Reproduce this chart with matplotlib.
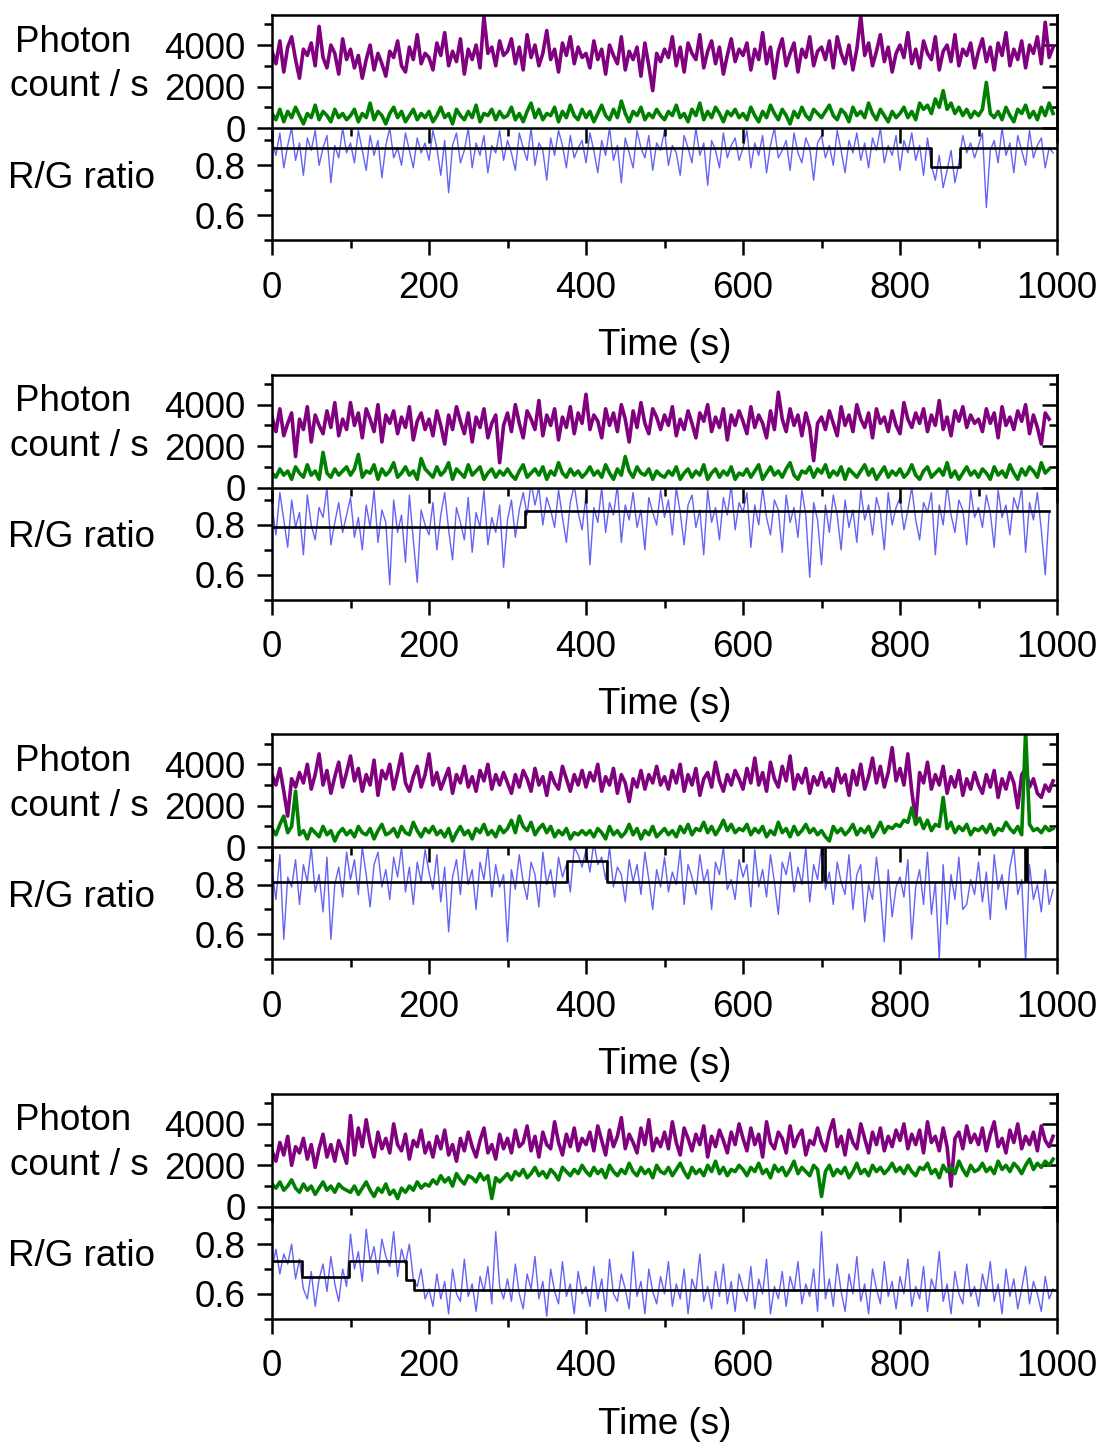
import numpy as np
import matplotlib.pyplot as plt
from matplotlib.ticker import MultipleLocator

plt.rcParams['font.family'] = ['Liberation Sans', 'DejaVu Sans']
plt.rcParams['font.size'] = 26.5

dt = 5  # seconds between points

# photon counts in units of 100 counts/s, R/G ratio in units of 0.01
# ---- trace 1
red1 = [37,31,42,27,39,44,33,24,38,35,41,30,49,34,29,40,36,26,43,33,
        38,29,35,24,33,40,28,36,31,25,37,34,42,30,27,39,33,45,31,36,
        34,28,41,35,46,30,37,32,43,26,38,33,40,29,54,36,39,30,42,35,
        37,43,31,39,28,45,34,40,30,36,47,33,38,27,41,35,44,31,39,34,
        36,29,42,33,38,26,40,35,31,44,28,37,33,39,25,41,30,18,36,32,
        38,34,44,30,39,27,41,36,33,45,29,37,42,31,39,26,35,43,32,38,
        35,41,28,38,33,46,31,39,24,37,43,30,36,41,27,38,34,44,30,37,
        39,33,42,29,44,36,31,40,28,38,54,35,41,30,37,45,32,39,27,36,
        40,34,46,31,38,29,42,36,33,44,28,37,40,32,45,30,38,35,41,29,
        37,43,32,39,28,41,35,46,30,38,33,42,29,40,36,44,31,51,34,39]
green1 = [7,4,9,3,8,5,10,6,2,7,5,11,4,8,6,3,9,5,7,4,
          6,9,3,7,5,12,4,8,6,2,7,10,5,8,3,6,9,4,7,5,
          8,3,6,10,5,7,2,9,6,4,8,5,11,3,7,6,9,4,8,5,
          6,10,4,7,3,8,12,5,9,4,7,6,10,3,8,5,11,6,4,9,
          5,8,3,7,11,6,4,9,5,13,7,3,8,6,10,4,7,5,9,6,
          4,8,6,11,5,7,3,9,6,12,4,8,5,10,7,3,8,6,9,5,
          7,4,10,6,3,8,5,11,7,4,9,6,2,8,5,10,6,4,9,7,
          5,8,11,6,4,9,7,3,10,6,8,5,12,7,4,9,6,3,8,5,
          7,10,5,8,4,12,9,11,7,14,10,18,9,12,7,10,6,9,5,8,
          6,9,22,7,5,8,4,10,6,3,9,7,11,5,8,4,10,6,12,7]
ratio1 = [90,84,93,79,88,95,82,89,76,91,86,94,80,87,92,73,88,83,95,85,
          89,81,94,86,78,92,84,90,75,88,95,83,87,80,93,86,79,91,85,89,
          82,94,87,76,90,69,88,93,81,86,95,79,89,84,92,77,88,85,94,82,
          90,85,78,93,87,82,95,80,89,86,74,91,84,94,88,79,92,83,87,90,
          81,93,86,77,90,84,95,82,88,73,91,85,79,94,87,83,92,78,89,86,
          94,80,88,85,76,92,87,81,95,84,89,72,90,86,79,93,83,88,91,82,
          87,94,79,89,84,92,77,88,95,83,86,90,78,93,85,81,91,87,74,89,
          92,83,88,80,94,86,77,90,85,93,82,89,79,91,86,95,81,88,84,92,
          78,90,85,93,82,88,76,91,80,74,84,71,78,86,73,81,92,85,89,83,
          88,93,63,86,90,81,95,84,89,77,92,86,80,94,83,88,91,79,87,85]
fit1_t = [0, 840, 877, 1000]
fit1_v = [0.87, 0.795, 0.87]

# ---- trace 2
red2 = [34,27,38,25,31,36,15,33,28,39,22,35,30,26,37,29,41,25,33,28,
        41,30,36,24,38,33,27,40,22,35,31,37,26,34,29,39,23,32,36,28,
        33,25,37,30,21,35,28,39,32,26,36,22,34,29,38,24,31,35,12,30,
        36,27,40,31,24,37,33,28,42,25,35,30,38,23,34,29,39,26,36,31,
        45,28,35,32,24,38,30,36,27,40,33,22,37,29,41,31,26,38,34,28,
        35,30,39,25,33,28,37,31,24,36,32,40,27,34,29,38,23,35,30,37,
        32,26,39,29,35,31,24,37,28,46,33,27,38,30,35,25,36,29,13,31,
        34,28,37,31,25,39,30,35,27,40,33,29,36,24,38,31,34,27,37,30,
        26,41,33,29,36,31,38,27,35,30,42,28,34,25,37,32,39,29,35,31,
        33,27,38,31,36,24,39,30,34,28,37,32,40,26,35,29,21,36,33]
green2 = [7,5,9,6,8,4,10,7,5,11,6,8,4,17,7,5,9,6,8,10,
          6,9,16,5,8,7,11,4,9,6,8,12,5,7,10,6,8,4,14,9,
          7,5,10,6,8,12,4,9,7,5,11,6,8,10,4,7,9,5,8,6,
          9,6,4,8,11,5,7,9,6,10,4,8,6,12,7,5,9,6,8,5,
          7,10,6,8,5,11,7,4,9,6,15,8,5,10,7,6,9,4,8,6,
          5,8,6,10,4,7,9,5,8,6,11,4,7,9,5,8,6,10,4,7,
          6,9,5,8,11,4,7,10,6,8,5,9,12,6,4,8,7,10,5,9,
          7,11,5,8,6,10,4,9,7,5,8,11,6,9,4,7,10,5,8,6,
          9,5,7,11,6,4,8,10,5,7,9,6,12,5,8,4,7,10,6,8,
          5,9,7,4,10,6,8,5,11,7,4,9,6,10,8,5,12,7,9]
ratio2 = [88,76,93,82,71,90,79,85,68,92,80,74,87,83,95,72,81,89,77,84,
          91,75,83,70,88,79,94,73,86,81,56,90,77,84,65,92,74,57,86,80,
          76,89,70,84,93,78,66,87,81,74,91,69,85,79,94,72,83,77,88,63,
          82,90,75,86,93,84,97,88,95,80,91,86,79,94,83,73,89,96,85,78,
          92,64,87,81,95,77,89,84,96,73,88,82,93,79,86,70,91,85,80,94,
          83,90,76,95,85,72,88,92,79,86,68,94,81,87,74,91,84,96,78,89,
          85,93,71,88,80,95,83,76,90,86,69,92,81,87,75,94,84,59,89,82,
          64,88,77,92,84,70,90,79,86,73,94,82,88,76,91,85,70,93,80,87,
          91,78,86,95,82,74,89,85,93,68,88,80,96,84,77,90,86,72,94,83,
          87,79,92,85,71,94,83,88,76,91,86,95,69,89,82,93,78,60,85]
fit2_t = [0, 322, 990]
fit2_v = [0.79, 0.855]

# ---- trace 3
red3 = [35,30,38,27,15,33,29,36,31,40,28,35,45,30,37,26,34,41,29,36,
        44,32,38,27,35,30,42,25,37,33,40,28,36,45,31,27,34,39,29,35,
        45,30,36,28,33,38,26,35,31,39,29,34,27,37,32,40,28,35,30,36,
        31,26,35,29,37,33,27,38,30,34,25,36,31,28,39,33,27,35,30,37,
        29,36,32,40,27,34,30,38,26,35,31,22,33,29,37,28,35,31,39,30,
        34,28,37,31,40,27,35,30,38,25,33,36,29,41,32,27,35,30,37,33,
        28,38,31,43,30,36,27,41,33,29,39,32,44,28,35,31,38,26,34,30,
        36,29,33,27,38,31,35,25,37,30,40,28,34,43,31,39,29,36,48,32,
        38,30,45,27,13,36,31,41,28,35,30,39,26,34,29,37,25,33,28,36,
        30,26,35,29,37,24,33,28,36,31,19,35,38,29,33,26,24,30,27,32]
green3 = [9,6,11,15,7,10,27,6,8,4,9,7,5,10,6,8,3,7,9,6,
          8,5,10,7,6,9,4,8,11,6,7,9,5,10,7,6,12,8,5,9,
          7,10,6,8,5,9,3,7,10,6,8,4,9,7,11,6,8,5,10,7,
          9,13,7,15,10,8,12,6,9,11,7,10,5,8,6,9,4,7,6,8,
          6,8,5,9,7,4,10,6,8,5,7,11,6,9,4,8,6,10,5,7,
          9,6,8,5,10,7,11,6,9,8,12,7,10,6,9,13,8,11,7,9,
          8,11,6,9,7,10,5,8,6,12,7,9,5,10,6,8,11,7,9,6,
          8,5,3,10,7,9,6,8,11,6,9,7,10,5,8,12,7,10,9,11,
          10,13,12,19,11,14,9,13,8,11,10,24,9,12,7,10,8,11,6,9,
          8,10,7,11,6,9,8,12,9,7,10,6,56,11,8,9,7,10,8,9]
ratio3 = [86,74,92,58,83,79,90,72,88,81,95,77,84,69,91,58,80,87,75,93,
          82,90,76,95,84,71,88,93,79,86,74,91,83,95,77,87,72,89,81,94,
          85,78,92,73,87,61,83,90,76,94,80,86,70,89,82,95,75,88,79,84,
          57,86,78,92,81,74,89,84,71,93,80,86,75,91,83,88,77,95,92,87,
          94,85,97,88,91,82,95,79,87,84,73,90,81,88,76,93,82,70,86,79,
          91,77,85,80,94,72,88,83,76,92,81,86,70,89,84,95,78,82,74,90,
          83,88,71,94,79,86,75,92,81,68,89,84,93,77,87,80,95,73,88,82,
          96,78,85,72,89,81,76,92,70,84,88,65,80,74,91,77,57,86,67,79,
          83,75,90,58,79,86,72,93,68,81,50,88,64,84,74,91,70,72,82,76,
          89,73,85,66,92,78,84,70,87,95,76,82,49,88,74,80,69,86,72,78]
fit3_t = [0, 376, 427, 701, 704, 959, 962, 1000]
fit3_v = [0.81, 0.895, 0.81, 0.96, 0.81, 0.96, 0.81]

# ---- trace 4
red4 = [27,22,31,25,34,20,29,26,33,23,30,19,28,35,24,30,22,32,27,21,
        44,25,38,29,42,31,24,36,28,33,26,40,30,27,35,23,32,29,37,26,
        31,24,34,28,37,25,30,22,33,27,36,29,24,32,38,26,30,23,35,28,
        33,26,37,29,31,39,27,34,24,36,30,28,41,31,25,35,29,38,27,33,
        30,36,27,39,32,25,37,29,34,43,28,35,31,26,38,30,42,27,33,29,
        36,28,41,31,25,38,33,27,35,30,39,24,34,29,37,32,26,36,30,40,
        33,27,38,30,35,24,41,31,28,36,33,26,39,29,34,37,25,32,30,38,
        31,27,36,42,29,34,25,37,31,28,40,33,26,36,30,38,27,34,29,37,
        32,40,28,35,30,37,26,41,31,34,27,38,29,10,33,36,28,39,31,35,
        30,38,27,35,41,29,33,26,37,31,40,28,34,30,36,27,39,32,29,34]
green4 = [11,9,12,8,10,13,9,7,11,8,10,6,9,12,8,10,7,11,9,8,
          7,10,6,9,12,8,5,9,7,11,6,8,4,9,7,10,8,12,9,11,
          10,13,11,15,12,14,10,16,13,11,15,14,12,16,13,15,4,14,12,14,
          16,13,17,15,18,14,16,19,15,17,14,18,16,13,19,17,15,18,16,20,
          17,15,19,16,18,14,20,17,15,18,16,21,17,15,19,16,18,14,20,17,
          16,19,15,18,21,17,14,19,16,18,15,20,17,22,16,19,15,18,17,20,
          18,15,19,17,21,16,18,14,20,17,19,15,18,22,16,19,17,15,20,18,
          5,17,20,15,18,16,19,14,17,21,16,18,15,20,17,19,16,18,21,17,
          19,16,20,17,15,19,18,21,16,18,14,20,17,19,16,22,18,15,20,17,
          18,21,17,19,16,22,18,20,17,21,19,16,20,23,18,21,19,22,20,23]
ratio4 = [70,78,68,76,72,80,66,74,62,58,69,55,66,72,61,75,64,57,70,63,
          84,70,77,65,86,73,79,68,82,75,71,85,67,78,72,80,66,63,70,58,
          62,55,68,58,65,52,70,60,57,74,59,64,53,67,61,71,56,85,63,58,
          66,57,72,60,54,68,62,75,58,65,51,70,61,56,73,59,64,52,69,60,
          63,55,71,58,66,53,74,60,57,68,62,54,77,59,65,52,70,61,56,67,
          60,73,55,64,58,70,52,66,61,76,57,63,54,69,59,72,56,65,53,68,
          62,57,71,54,66,60,74,52,63,58,69,55,67,61,73,56,64,59,70,53,
          85,58,66,55,72,61,53,68,60,75,57,64,52,70,62,56,73,59,65,54,
          67,60,74,55,63,58,71,53,66,61,77,57,64,52,69,60,56,72,59,63,
          55,68,61,73,57,64,52,70,59,66,54,62,71,56,65,60,53,67,58,62]
fit4_t = [0, 38, 98, 171, 181, 1000]
fit4_v = [0.733, 0.667, 0.733, 0.655, 0.615]

panels = [(red1, green1, ratio1, fit1_t, fit1_v),
          (red2, green2, ratio2, fit2_t, fit2_v),
          (red3, green3, ratio3, fit3_t, fit3_v),
          (red4, green4, ratio4, fit4_t, fit4_v)]

W, H = 1102, 1445
fig = plt.figure(figsize=(W / 100, H / 100), dpi=100)
lw_sp = 1.8

for i, (red, green, ratio, ft, fv) in enumerate(panels):
    off = 359.6 * i
    top, mid, bot = 15 + off, 128 + off, 240 + off
    axp = fig.add_axes([272 / W, 1 - mid / H, 785 / W, (mid - top) / H])
    axr = fig.add_axes([272 / W, 1 - bot / H, 785 / W, (bot - mid) / H])
    axr.patch.set_visible(False)
    axp.set_zorder(2)
    axp.patch.set_visible(False)

    red = np.array(red) * 100
    green = np.array(green) * 100
    ratio = np.array(ratio) / 100
    axp.plot(np.arange(len(red)) * dt, red, color='#800080', lw=2.6)
    axp.plot(np.arange(len(green)) * dt, green, color='#008000', lw=2.6)
    axr.plot(np.arange(len(ratio)) * dt, ratio, color='#6363f5', lw=1.0)
    axr.plot(ft, fv + [fv[-1]], drawstyle='steps-post', color='black', lw=1.9)

    # photon axes
    axp.set_xlim(0, 1000)
    axp.set_ylim(0, 5450)
    axp.set_yticks([0, 2000, 4000])
    axp.yaxis.set_minor_locator(MultipleLocator(1000))
    axp.xaxis.set_major_locator(MultipleLocator(200))
    axp.xaxis.set_minor_locator(MultipleLocator(100))
    axp.tick_params(axis='x', which='both', labelbottom=False, direction='out', width=lw_sp)
    axp.tick_params(axis='both', which='major', length=11, width=lw_sp, pad=8)
    axp.tick_params(axis='both', which='minor', length=6, width=lw_sp)
    sec = axp.secondary_yaxis('right')
    sec.set_yticks([0, 2000, 4000])
    sec.yaxis.set_minor_locator(MultipleLocator(1000))
    sec.tick_params(which='both', direction='in', labelright=False, width=lw_sp)
    sec.tick_params(which='major', length=11)
    sec.tick_params(which='minor', length=6)
    sec.spines['right'].set_linewidth(lw_sp)
    for s in axp.spines.values():
        s.set_linewidth(lw_sp)

    # ratio axes
    axr.set_xlim(0, 1000)
    axr.set_ylim(0.5, 0.95)
    axr.set_yticks([0.6, 0.8])
    axr.set_yticks([0.5, 0.7, 0.9], minor=True)
    axr.xaxis.set_major_locator(MultipleLocator(200))
    axr.xaxis.set_minor_locator(MultipleLocator(100))
    axr.tick_params(axis='both', which='major', length=11, width=lw_sp, pad=8)
    axr.tick_params(axis='x', which='major', pad=11)
    axr.tick_params(axis='both', which='minor', length=6, width=lw_sp)
    axr.spines['top'].set_visible(False)
    for s in axr.spines.values():
        s.set_linewidth(lw_sp)
    axr.set_xlabel('Time (s)', labelpad=16)

    fig.text(73 / W, 1 - (42 + off) / H, 'Photon', ha='center', va='center')
    fig.text(79 / W, 1 - (87 + off) / H, 'count / s', ha='center', va='center')
    fig.text(82 / W, 1 - (178 + off) / H, 'R/G ratio', ha='center', va='center')

fig.savefig('out.png', dpi=100)
